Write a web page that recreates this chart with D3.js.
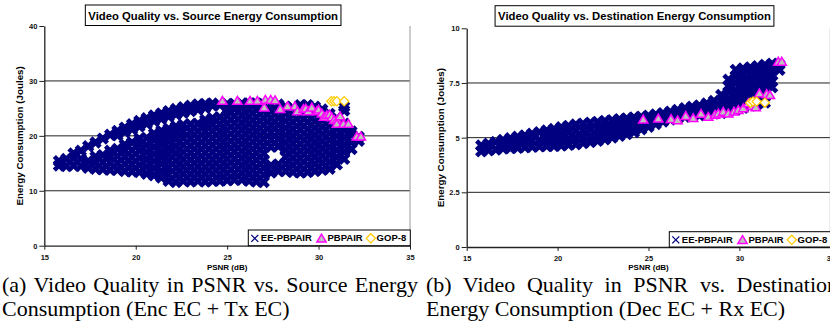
<!DOCTYPE html>
<html>
<head>
<meta charset="utf-8">
<script src="https://cdn.jsdelivr.net/npm/d3@7"></script>
<style>
  body { margin: 0; background: #fff; }
  svg { display: block; font-family: "Liberation Sans", Arial, sans-serif; }
</style>
</head>
<body>
<svg id="chart" width="830" height="326"></svg>
<script>
// ---- data ----
const xTicks = [15, 20, 25, 30, 35];
const srcYTicks = [0, 10, 20, 30, 40];
const dstYTicks = [0, 2.5, 5, 7.5, 10];
const seriesNames = ["EE-PBPAIR", "PBPAIR", "GOP-8"];

// EE-PBPAIR cloud, one column per PSNR value
const eeCols = [15.8, 16.2, 16.6, 17.0, 17.4, 17.8, 18.2, 18.6, 19.0, 19.4, 19.8, 20.2, 20.6, 21.0,
  21.4, 21.8, 22.2, 22.6, 23.0, 23.4, 23.8, 24.2, 24.6, 25.0, 25.4, 25.8, 26.2, 26.6, 27.0, 27.4,
  27.8, 28.2, 28.6, 29.0, 29.4, 29.8, 30.2, 30.6, 31.0, 31.4, 31.8, 32.2];

const srcEe = [
  [14.6, 15.4], [14.5, 15.8], [14.6, 15.9, 16.8], [14.5, 15.8, 17.3], [14.2, 15.4, 18.1],
  [14.0, 15.2, 16.2, 18.8], [13.9, 15.2, 16.5, 19.5], [13.8, 15.1, 16.3, 17.3, 20.2],
  [13.8, 15.0, 16.3, 17.6, 20.1, 20.9], [13.6, 14.9, 16.2, 17.4, 18.4, 20.7, 21.5],
  [13.5, 14.8, 16.1, 17.4, 18.8, 21.2, 22.1], [13.4, 14.7, 16.0, 17.3, 18.5, 19.5, 21.7, 22.7],
  [13.1, 14.4, 15.7, 17.0, 18.3, 19.6, 22.2, 23.2], [12.8, 14.1, 15.4, 16.7, 18.0, 19.3, 20.4, 22.7, 23.7],
  [12.4, 13.6, 14.9, 16.1, 17.3, 18.5, 19.7, 20.9, 23.1, 24.1],
  [11.8, 13.0, 14.2, 15.4, 16.6, 17.8, 19.0, 20.2, 21.3, 23.5, 24.5],
  [11.6, 12.9, 14.2, 15.5, 16.8, 18.1, 19.4, 20.6, 21.7, 23.9, 24.9],
  [11.8, 13.1, 14.4, 15.7, 17.0, 18.3, 19.6, 20.8, 22.0, 24.2, 25.2],
  [11.7, 13.0, 14.3, 15.6, 16.9, 18.2, 19.5, 20.8, 22.1, 24.5, 25.5],
  [11.8, 13.1, 14.4, 15.7, 17.0, 18.3, 19.6, 20.9, 22.2, 24.8, 25.7],
  [11.7, 13.0, 14.3, 15.6, 16.9, 18.2, 19.5, 20.8, 22.0, 22.9, 25.1, 25.8],
  [11.8, 13.1, 14.4, 15.7, 17.0, 18.3, 19.6, 20.9, 22.1, 23.2, 25.5, 25.9],
  [11.8, 13.0, 14.3, 15.6, 16.9, 18.2, 19.5, 20.8, 22.1, 23.4, 25.6],
  [11.9, 13.2, 14.5, 15.8, 17.1, 18.4, 19.7, 21.0, 22.3, 23.6, 24.8, 25.8],
  [12.0, 13.2, 14.5, 15.8, 17.1, 18.4, 19.7, 21.0, 22.3, 23.6, 24.9, 25.8],
  [12.0, 13.3, 14.6, 15.9, 17.2, 18.5, 19.8, 21.1, 22.4, 23.7, 25.0, 25.9],
  [11.8, 13.1, 14.4, 15.7, 17.0, 18.3, 19.6, 20.9, 22.2, 23.5, 24.8, 25.9],
  [11.7, 13.0, 14.3, 15.6, 16.9, 18.2, 19.5, 20.8, 22.1, 23.4, 24.7, 25.9],
  [11.6, 12.9, 14.2, 15.5, 16.8, 18.1, 19.4, 20.7, 22.0, 23.3, 24.6, 25.8],
  [13.3, 14.6, 18.0, 19.3, 20.6, 21.9, 23.2, 24.5, 25.7],
  [13.6, 14.8, 18.1, 19.4, 20.7, 22.0, 23.3, 24.6, 25.7],
  [13.6, 14.9, 16.2, 17.5, 18.8, 20.1, 21.4, 22.7, 24.0, 25.3],
  [13.4, 14.7, 16.0, 17.3, 18.6, 19.9, 21.2, 22.5, 23.8, 25.1],
  [13.3, 14.6, 15.9, 17.2, 18.5, 19.8, 21.1, 22.4, 23.7, 24.9, 25.6],
  [13.4, 14.7, 16.0, 17.3, 18.6, 19.9, 21.2, 22.5, 23.8, 25.1, 25.6],
  [13.6, 14.9, 16.2, 17.5, 18.8, 20.1, 21.4, 22.7, 24.0, 25.3],
  [13.8, 15.1, 16.4, 17.7, 19.0, 20.3, 21.6, 22.9, 24.1, 24.8],
  [14.0, 15.3, 16.6, 17.9, 19.2, 20.5, 21.8, 23.0, 24.0],
  [14.8, 16.1, 17.4, 18.7, 20.0, 21.3, 22.5, 23.2],
  [15.8, 17.1, 18.4, 19.7, 21.0, 22.2, 24.6, 25.3],
  [17.6, 18.9, 20.2, 20.8], [19.1, 19.8]
];

const dstEe = [
  [4.38, 4.64], [4.42, 4.72], [4.46, 4.8], [4.5, 4.7, 4.9], [4.52, 4.75, 4.97], [4.54, 4.8, 5.04],
  [4.56, 4.83, 5.1], [4.58, 4.86, 5.18], [4.6, 4.9, 5.25], [4.61, 4.85, 5.09, 5.33],
  [4.62, 4.88, 5.14, 5.4], [4.64, 4.9, 5.18, 5.48], [4.67, 4.95, 5.25, 5.54], [4.7, 5.0, 5.3, 5.6],
  [4.75, 5.03, 5.33, 5.64], [4.8, 5.08, 5.38, 5.68], [4.85, 5.13, 5.42, 5.72], [4.92, 5.2, 5.48, 5.76],
  [5.0, 5.27, 5.53, 5.8], [5.08, 5.35, 5.6, 5.84], [5.16, 5.42, 5.66, 5.88], [5.25, 5.5, 5.72, 5.92],
  [5.38, 5.67, 5.96], [5.5, 5.75, 6.0], [5.62, 5.84, 6.06], [5.74, 5.95, 6.12], [5.83, 6.0, 6.19],
  [5.89, 6.08, 6.27], [5.95, 6.15, 6.35], [5.99, 6.2, 6.41], [6.02, 6.25, 6.47], [6.06, 6.31, 6.56],
  [6.1, 6.39, 6.68], [6.13, 6.4, 6.68, 6.95], [6.2, 6.49, 6.78, 7.07, 7.36, 7.65],
  [6.28, 6.58, 6.88, 7.18, 7.5, 7.8, 8.1], [6.37, 6.67, 6.97, 7.27, 7.57, 7.87, 8.16],
  [6.47, 6.76, 7.05, 7.34, 7.63, 7.92, 8.21], [6.55, 6.84, 7.13, 7.42, 7.7, 7.98, 8.27],
  [6.6, 6.9, 7.18, 7.46, 7.75, 8.04, 8.33], [7.3, 7.58, 7.85, 8.12, 8.38], [8.1, 8.35]
];

// PBPAIR
const srcPbX = [24.74, 25.56, 26.25, 26.65, 27.09, 27.38, 27.62, 27.03, 27.9, 28.3, 28.7, 28.84, 29.17,
  29.3, 29.44, 29.63, 29.9, 30.0, 30.18, 30.3, 30.45, 30.6, 30.72, 30.85, 31.0, 31.18, 31.0, 31.36,
  31.63, 32.09, 32.31];
const srcPbY = [26.4, 26.4, 26.4, 26.4, 26.6, 26.6, 26.5, 25.2, 24.9, 25.4, 25.4, 24.5, 24.9,
  25.0, 24.5, 25.2, 24.5, 24.8, 24.1, 23.5, 23.8, 23.9, 23.4, 22.9, 22.9, 23.6, 22.2, 22.2,
  22.2, 19.9, 19.9];
const dstPbX = [24.71, 25.54, 26.24, 26.6, 27.05, 27.46, 27.89, 28.29, 28.66, 28.84, 29.11, 29.39, 29.7,
  29.94, 30.21, 30.49, 30.7, 30.9, 31.1, 31.5, 31.68, 32.14, 32.33];
const dstPbY = [5.84, 5.88, 5.86, 5.8, 6.0, 5.9, 6.1, 5.96, 6.05, 6.11, 6.19, 6.11, 6.2,
  6.27, 6.35, 6.58, 6.45, 6.4, 7.03, 7.0, 6.95, 8.48, 8.48];

// GOP-8
const srcGopX = [30.7, 30.85, 31.0, 31.4];
const srcGopY = [26.3, 26.3, 26.3, 26.3];
const dstGopX = [30.6, 30.75, 30.95, 31.4];
const dstGopY = [6.6, 6.65, 6.65, 6.6];

const titles = ["Video Quality vs. Source Energy Consumption", "Video Quality vs. Destination Energy Consumption"];
const yLabel = "Energy Consumption (Joules)";
const xLabel = "PSNR (dB)";
const captions = [
  ["(a) Video Quality in PSNR vs. Source Energy", "Consumption (Enc EC + Tx EC)"],
  ["(b) Video Quality in PSNR vs. Destination", "Energy Consumption (Dec EC + Rx EC)"]
];

// ---- drawing ----
const svg = d3.select("#chart");
const crossPath = r => `M${-r},${-r}L${r},${r}M${-r},${r}L${r},${-r}`;
const triPath = "M0,-4.2L4.6,3.6L-4.6,3.6Z";
const diaPath = "M0,-4.6L4.6,0L0,4.6L-4.6,0Z";

const panels = [
  { left: 44.3, right: 410, top: 26, bottom: 245.7, yMax: 40, yTicks: srcYTicks, grid: [10, 20, 30],
    fmt: d3.format("d"), ee: srcEe, pbX: srcPbX, pbY: srcPbY, gopX: srcGopX, gopY: srcGopY,
    title: titles[0], titleY: 5, legX: 248.3, legTop: 230, yLabX: 20, cap: captions[0], capX: 2, capW: 416 },
  { left: 466.7, right: 830.3, top: 28.3, bottom: 247, yMax: 10, yTicks: dstYTicks, grid: [2.5, 5, 7.5],
    fmt: d => String(d), ee: dstEe, pbX: dstPbX, pbY: dstPbY, gopX: dstGopX, gopY: dstGopY,
    title: titles[1], titleY: 5.7, legX: 669.3, legTop: 231.7, yLabX: 441, cap: captions[1], capX: 426, capW: 412 }
];

panels.forEach(p => {
  const g = svg.append("g");
  const x = d3.scaleLinear().domain([15, 35]).range([p.left, p.right]);
  const y = d3.scaleLinear().domain([0, p.yMax]).range([p.bottom, p.top]);

  // gridlines
  g.append("g").selectAll("line").data(p.grid).join("line")
    .attr("x1", p.left).attr("x2", p.right)
    .attr("y1", d => y(d)).attr("y2", d => y(d))
    .attr("stroke", "#222").attr("stroke-width", 1);
  g.append("line").attr("x1", p.right).attr("x2", p.right).attr("y1", p.top).attr("y2", p.bottom)
    .attr("stroke", "#999").attr("stroke-width", 1);

  // EE-PBPAIR
  const ee = eeCols.flatMap((cx, i) => p.ee[i].map(cy => [cx, cy]));
  g.append("g").selectAll("path").data(ee).join("path")
    .attr("transform", d => `translate(${x(d[0])},${y(d[1])})`)
    .attr("d", crossPath(4.6))
    .attr("fill", "none").attr("stroke", "#000080").attr("stroke-width", 4.5);

  // PBPAIR
  g.append("g").selectAll("path").data(p.pbX).join("path")
    .attr("transform", (d, i) => `translate(${x(d)},${y(p.pbY[i])})`)
    .attr("d", triPath)
    .attr("fill", "#c0c0c0").attr("stroke", "#ff00ff").attr("stroke-width", 1.5);

  // GOP-8
  g.append("g").selectAll("path").data(p.gopX).join("path")
    .attr("transform", (d, i) => `translate(${x(d)},${y(p.gopY[i])})`)
    .attr("d", diaPath)
    .attr("fill", "#fff").attr("stroke", "#ffcc00").attr("stroke-width", 1.3);

  // axes
  const ya = g.append("g").attr("transform", `translate(${p.left},0)`)
    .call(d3.axisLeft(y).tickValues(p.yTicks).tickFormat(p.fmt).tickSize(5).tickSizeOuter(0).tickPadding(2));
  const xa = g.append("g").attr("transform", `translate(0,${p.bottom})`)
    .call(d3.axisBottom(x).tickValues(xTicks).tickSize(4).tickSizeOuter(0).tickPadding(5));
  [ya, xa].forEach(a => {
    a.select(".domain").attr("stroke", "#222").attr("stroke-width", 1.3);
    a.selectAll(".tick line").attr("stroke", "#222");
    a.selectAll("text").attr("font-size", 7.5).attr("font-weight", "bold")
      .attr("font-family", "'Liberation Sans', Arial, sans-serif").attr("fill", "#111");
  });

  // legend
  const lh = p.bottom - p.legTop;
  const lg = g.append("g").attr("transform", `translate(${p.legX},${p.legTop})`);
  lg.append("rect").attr("width", 162).attr("height", lh).attr("fill", "#fff")
    .attr("stroke", "#000").attr("stroke-width", 1);
  const items = [
    { mx: 6.5, tx: 12.5, d: crossPath(3.5), fill: "none", stroke: "#000080", sw: 1.3 },
    { mx: 73.2, tx: 79.2, d: triPath, fill: "#c0c0c0", stroke: "#ff00ff", sw: 1.5 },
    { mx: 122.5, tx: 128.3, d: diaPath, fill: "#fff", stroke: "#ffcc00", sw: 1.3 }
  ];
  items.forEach((it, i) => {
    lg.append("path").attr("transform", `translate(${it.mx},${lh / 2 + 0.5})`).attr("d", it.d)
      .attr("fill", it.fill).attr("stroke", it.stroke).attr("stroke-width", it.sw);
    lg.append("text").attr("x", it.tx).attr("y", lh / 2 + 3.6).text(seriesNames[i])
      .attr("font-size", 9.5).attr("font-weight", "bold");
  });

  // title box
  const cx = (p.left + p.right) / 2;
  const tcx = cx - 14;
  const tbox = g.append("rect").attr("y", p.titleY).attr("height", 20.5)
    .attr("fill", "#fff").attr("stroke", "#000");
  const tt = g.append("text").attr("x", tcx).attr("y", p.titleY + 14.5).attr("font-size", 11.3)
    .attr("font-weight", "bold").attr("text-anchor", "middle").text(p.title);
  const tw = tt.node().getComputedTextLength();
  tbox.attr("x", tcx - tw / 2 - 3).attr("width", tw + 6);

  // axis labels
  g.append("text").attr("transform", `translate(${p.yLabX},${(p.top + p.bottom) / 2}) rotate(-90)`)
    .attr("text-anchor", "middle").attr("dy", "0.35em").attr("font-size", 9.8).attr("font-weight", "bold")
    .text(yLabel);
  g.append("text").attr("x", cx).attr("y", 270).attr("text-anchor", "middle")
    .attr("font-size", 8).attr("font-weight", "bold").text(xLabel);

  // caption
  const c1 = g.append("text").attr("x", p.capX).attr("y", 292)
    .attr("font-family", "'Liberation Serif', 'Times New Roman', serif").attr("font-size", 22).text(p.cap[0]);
  const nat = c1.node().getComputedTextLength();
  const nsp = p.cap[0].split(" ").length - 1;
  c1.attr("word-spacing", Math.max(0, (p.capW - nat) / nsp));
  g.append("text").attr("x", p.capX).attr("y", 316)
    .attr("font-family", "'Liberation Serif', 'Times New Roman', serif").attr("font-size", 22).text(p.cap[1]);
});
</script>
</body>
</html>
